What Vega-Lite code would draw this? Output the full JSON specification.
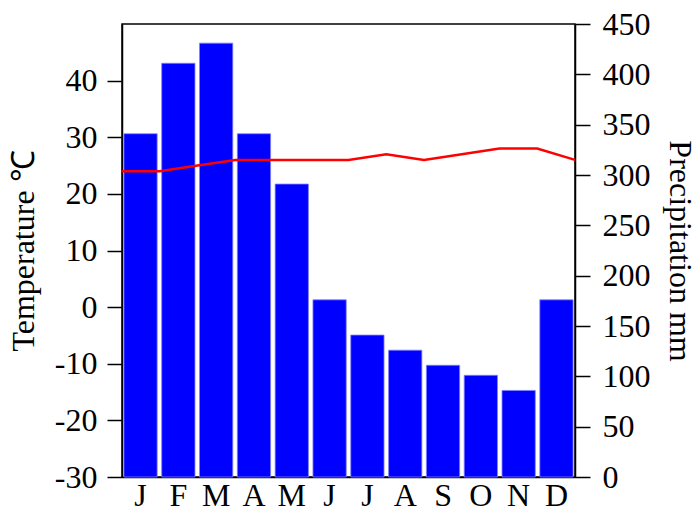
{
  "$schema": "https://vega.github.io/schema/vega-lite/v6.json",
  "width": 453,
  "height": 453,
  "autosize": {"type": "none"},
  "padding": {"left": 122, "top": 24, "right": 125, "bottom": 31},
  "background": "white",
  "config": {
    "view": {"stroke": "black", "strokeWidth": 1.5},
    "font": "Liberation Serif",
    "axis": {
      "labelFont": "Liberation Serif",
      "titleFont": "Liberation Serif",
      "labelFontSize": 32,
      "titleFontSize": 32,
      "labelColor": "black",
      "titleColor": "black",
      "titleFontWeight": "normal",
      "domainColor": "black",
      "tickColor": "black",
      "grid": false,
      "domainWidth": 1.5,
      "tickWidth": 1.5,
      "tickSize": 15
    }
  },
  "layer": [
    {
      "data": {
        "values": [
          {"month": "Jan", "precip": 341},
          {"month": "Feb", "precip": 411},
          {"month": "Mar", "precip": 431},
          {"month": "Apr", "precip": 341},
          {"month": "May", "precip": 291},
          {"month": "Jun", "precip": 176},
          {"month": "Jul", "precip": 141},
          {"month": "Aug", "precip": 126},
          {"month": "Sep", "precip": 111},
          {"month": "Oct", "precip": 101},
          {"month": "Nov", "precip": 86},
          {"month": "Dec", "precip": 176}
        ]
      },
      "mark": {"type": "bar", "color": "#0000ff", "stroke": "#8080ff", "strokeWidth": 0.8},
      "encoding": {
        "x": {
          "field": "month",
          "type": "ordinal",
          "sort": null,
          "scale": {"paddingInner": 0.12, "paddingOuter": 0.05},
          "axis": {
            "title": null,
            "labelAngle": 0,
            "ticks": false,
            "labelExpr": "substring(datum.label, 0, 1)",
            "labelPadding": 3
          }
        },
        "y": {
          "field": "precip",
          "type": "quantitative",
          "scale": {"domain": [0, 450], "nice": false},
          "axis": {
            "orient": "right",
            "title": "Precipitation mm",
            "values": [0, 50, 100, 150, 200, 250, 300, 350, 400, 450],
            "labelPadding": 12,
            "titlePadding": 12
          }
        }
      }
    },
    {
      "data": {
        "values": [
          {"pos": 0, "temp": 24},
          {"pos": 1, "temp": 24},
          {"pos": 2, "temp": 25},
          {"pos": 3, "temp": 26},
          {"pos": 4, "temp": 26},
          {"pos": 5, "temp": 26},
          {"pos": 6, "temp": 26},
          {"pos": 7, "temp": 27},
          {"pos": 8, "temp": 26},
          {"pos": 9, "temp": 27},
          {"pos": 10, "temp": 28},
          {"pos": 11, "temp": 28},
          {"pos": 12, "temp": 26}
        ]
      },
      "mark": {"type": "line", "color": "#ff0000", "strokeWidth": 2.5},
      "encoding": {
        "x": {
          "field": "pos",
          "type": "quantitative",
          "scale": {"domain": [0, 12], "nice": false},
          "axis": null
        },
        "y": {
          "field": "temp",
          "type": "quantitative",
          "scale": {"domain": [-30, 50], "nice": false},
          "axis": {
            "orient": "left",
            "title": "Temperature ℃",
            "values": [-30, -20, -10, 0, 10, 20, 30, 40],
            "labelExpr": "datum.value + ''",
            "labelPadding": 10,
            "titlePadding": 14
          }
        }
      }
    }
  ],
  "resolve": {"scale": {"x": "independent", "y": "independent"}}
}
